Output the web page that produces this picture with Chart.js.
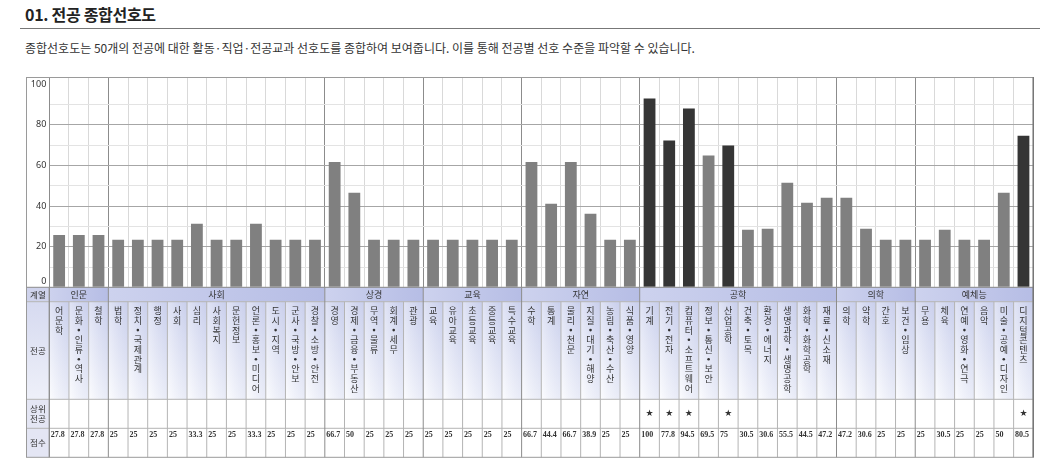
<!DOCTYPE html>
<html>
<head>
<meta charset="utf-8">
<script src="https://cdn.jsdelivr.net/npm/chart.js@4/dist/chart.umd.min.js"></script>
<style>
  body { margin: 0; background: #fff; width: 1040px; height: 465px; position: relative; overflow: hidden;
         font-family: 'Noto Sans CJK KR', 'Noto Sans', sans-serif; color: #222; }
  .title { position: absolute; left: 25px; top: 2px; font-size: 16px; font-weight: bold; letter-spacing: -0.3px; }
  .rule { position: absolute; left: 20px; top: 28px; width: 1020px; height: 1px; background: #777; }
  .sub { position: absolute; left: 25px; top: 39px; font-size: 12px; color: #333; letter-spacing: 0px; }
  #wrap { position: absolute; left: 26px; top: 77px; }
</style>
</head>
<body>
<div class="title">01. 전공 종합선호도</div>
<div class="rule"></div>
<div class="sub">종합선호도는 50개의 전공에 대한 활동·직업·전공교과 선호도를 종합하여 보여줍니다. 이를 통해 전공별 선호 수준을 파악할 수 있습니다.</div>
<div id="wrap"><canvas id="prefChart" width="1008" height="381"></canvas></div>

<script>
// 계열 (그룹 이름, 전공 수)
const groupNames = ['인문', '사회', '상경', '교육', '자연', '공학', '의학', '예체능'];
const groupSizes = [3, 11, 5, 5, 6, 10, 4, 6];

// 전공 이름
const majors = [
    '어문학', '문화·인류·역사', '철학',
    '법학', '정치·국제관계', '행정', '사회', '심리', '사회복지', '문헌정보', '언론·홍보·미디어', '도시·지역', '군사·국방·안보', '경찰·소방·안전',
    '경영', '경제·금융·부동산', '무역·물류', '회계·세무', '관광',
    '교육', '유아교육', '초등교육', '중등교육', '특수교육',
    '수학', '통계', '물리·천문', '지질·대기·해양', '농림·축산·수산', '식품·영양',
    '기계', '전기·전자', '컴퓨터·소프트웨어', '정보·통신·보안', '산업공학', '건축·토목', '환경·에너지', '생명과학·생명공학', '화학·화학공학', '재료·신소재',
    '의학', '약학', '간호', '보건·임상',
    '무용', '체육', '연예·영화·연극', '음악', '미술·공예·디자인', '디지털콘텐츠'
];

// 막대 높이 (그림의 눈금에서 읽은 값)
const barValues = [
    25.8, 25.8, 25.8,
    23.4, 23.4, 23.4, 23.4, 31.3, 23.4, 23.4, 31.3, 23.4, 23.4, 23.4,
    61.7, 46.6, 23.4, 23.4, 23.4,
    23.4, 23.4, 23.4, 23.4, 23.4,
    61.7, 41.2, 61.7, 36.2, 23.4, 23.4,
    93.0, 72.3, 88.1, 64.9, 69.8, 28.3, 28.8, 51.5, 41.6, 44.1,
    44.1, 28.8, 23.4, 23.4,
    23.4, 28.3, 23.4, 23.4, 46.6, 74.7
];

// 점수 (표에 적힌 값)
const scores = [
    '27.8', '27.8', '27.8',
    '25', '25', '25', '25', '33.3', '25', '25', '33.3', '25', '25', '25',
    '66.7', '50', '25', '25', '25',
    '25', '25', '25', '25', '25',
    '66.7', '44.4', '66.7', '38.9', '25', '25',
    '100', '77.8', '94.5', '69.5', '75', '30.5', '30.6', '55.5', '44.5', '47.2',
    '47.2', '30.6', '25', '25',
    '25', '30.5', '25', '25', '50', '80.5'
];

// 상위 전공 (★)
const topMajors = ['기계', '전기·전자', '컴퓨터·소프트웨어', '산업공학', '디지털콘텐츠'];

const yTicks = [0, 20, 40, 60, 80, 100];

// 그룹 경계 인덱스
const boundaries = [0];
groupSizes.forEach(n => boundaries.push(boundaries[boundaries.length - 1] + n));

const barColors = majors.map(m => topMajors.includes(m) ? '#353535' : '#808080');

// 표 그리기
const tablePlugin = {
    id: 'tablePlugin',
    afterDraw(chart) {
        const ctx = chart.ctx;
        const x = chart.scales.x;
        const y = chart.scales.y;
        const area = chart.chartArea;
        const n = majors.length;
        const colW = (x.right - x.left) / n;
        const colLeft = i => x.getPixelForValue(i) - colW / 2;
        const labelL = 0.5, labelR = area.left;
        const rows = [area.bottom, area.bottom + 14.4, area.bottom + 112, area.bottom + 141, area.bottom + 170];

        ctx.save();

        // y 축 숫자
        ctx.fillStyle = '#333';
        ctx.font = '9px "Noto Sans", sans-serif';
        ctx.textAlign = 'right';
        ctx.textBaseline = 'middle';
        yTicks.forEach(v => {
            let py = y.getPixelForValue(v);
            if (v === 0) py -= 6;
            ctx.fillText(String(v), area.left - 3, py);
        });

        // 계열 행 배경
        let start = 0;
        groupSizes.forEach((sz, g) => {
            const l = colLeft(start), r = colLeft(start + sz);
            const grad = ctx.createLinearGradient(l, 0, r, 0);
            grad.addColorStop(0, '#cdd2ee');
            grad.addColorStop(1, '#b6bde5');
            ctx.fillStyle = grad;
            ctx.fillRect(l, rows[0], r - l, rows[1] - rows[0]);
            ctx.fillStyle = '#333';
            ctx.font = '9px "Noto Sans CJK KR", sans-serif';
            ctx.textAlign = 'center';
            ctx.fillText(groupNames[g], (l + r) / 2, (rows[0] + rows[1]) / 2 + 0.5);
            start += sz;
        });

        // 전공 행 배경
        for (let i = 0; i < n; i++) {
            const l = colLeft(i);
            const grad = ctx.createLinearGradient(0, rows[1], 0, rows[2]);
            grad.addColorStop(0, '#d0d5ef');
            grad.addColorStop(1, '#fafbfe');
            ctx.fillStyle = grad;
            ctx.fillRect(l, rows[1], colW, rows[2] - rows[1]);
            const g2 = ctx.createLinearGradient(l, 0, l + colW, 0);
            g2.addColorStop(0, 'rgba(255,255,255,0.35)');
            g2.addColorStop(1, 'rgba(180,188,226,0.25)');
            ctx.fillStyle = g2;
            ctx.fillRect(l, rows[1], colW, rows[2] - rows[1]);
        }

        // 왼쪽 라벨 칸
        const lg = ctx.createLinearGradient(0, rows[1], 0, rows[2]);
        lg.addColorStop(0, '#d6daf0');
        lg.addColorStop(1, '#eef0f9');
        ctx.fillStyle = '#cfd3ec';
        ctx.fillRect(labelL, rows[0], labelR - labelL, rows[1] - rows[0]);
        ctx.fillStyle = lg;
        ctx.fillRect(labelL, rows[1], labelR - labelL, rows[2] - rows[1]);
        ctx.fillStyle = '#e4e6f4';
        ctx.fillRect(labelL, rows[2], labelR - labelL, rows[4] - rows[2]);

        ctx.fillStyle = '#333';
        ctx.font = '8.5px "Noto Sans CJK KR", sans-serif';
        ctx.textAlign = 'center';
        const lc = (labelL + labelR) / 2;
        ctx.fillText('계열', lc, (rows[0] + rows[1]) / 2 + 0.5);
        ctx.fillText('전공', lc, (rows[1] + rows[2]) / 2);
        ctx.fillText('상위', lc, (rows[2] + rows[3]) / 2 - 5);
        ctx.fillText('전공', lc, (rows[2] + rows[3]) / 2 + 5);
        ctx.fillText('점수', lc, (rows[3] + rows[4]) / 2);

        // 전공 이름 (세로쓰기)
        ctx.font = '9px "Noto Sans CJK KR", sans-serif';
        for (let i = 0; i < n; i++) {
            const cx = x.getPixelForValue(i);
            const chars = Array.from(majors[i]);
            chars.forEach((c, k) => {
                const py = rows[1] + 9 + k * 9.7;
                if (c === '·') {
                    ctx.beginPath();
                    ctx.arc(cx, py, 1.3, 0, Math.PI * 2);
                    ctx.fill();
                } else {
                    ctx.fillText(c, cx, py);
                }
            });
        }

        // 상위 전공 별
        ctx.font = '9px "DejaVu Sans", sans-serif';
        majors.forEach((m, i) => {
            if (topMajors.includes(m)) ctx.fillText('★', x.getPixelForValue(i), rows[2] + 14);
        });

        // 점수
        ctx.font = 'bold 8px "Liberation Serif", serif';
        ctx.textAlign = 'left';
        scores.forEach((s, i) => {
            ctx.fillText(s, colLeft(i) + 1.5, rows[3] + 6.5);
        });

        // 표 선
        ctx.lineWidth = 1;
        ctx.strokeStyle = '#b4b4b4';
        ctx.beginPath();
        [rows[1], rows[2], rows[3]].forEach(ry => {
            ctx.moveTo(labelL, ry); ctx.lineTo(x.right, ry);
        });
        for (let i = 1; i < n; i++) {
            if (boundaries.includes(i)) continue;
            const lx = colLeft(i);
            ctx.moveTo(lx, rows[1]); ctx.lineTo(lx, rows[4]);
        }
        ctx.stroke();

        ctx.strokeStyle = '#8c8c8c';
        ctx.beginPath();
        boundaries.forEach(b => {
            const lx = colLeft(b);
            ctx.moveTo(lx, rows[0]); ctx.lineTo(lx, rows[4]);
        });
        ctx.moveTo(labelR, rows[0]); ctx.lineTo(labelR, rows[4]);
        ctx.moveTo(labelL, rows[0]); ctx.lineTo(x.right, rows[0]);
        ctx.stroke();

        // 바깥 테두리
        ctx.strokeStyle = '#9a9a9a';
        ctx.strokeRect(labelL, 0.5, x.right - labelL, rows[4] - 0.5);
        ctx.strokeStyle = '#777';
        ctx.lineWidth = 1.5;
        ctx.beginPath();
        ctx.moveTo(x.right, 0); ctx.lineTo(x.right, rows[4]);
        ctx.stroke();

        ctx.restore();
    }
};

const prefChart = new Chart(document.getElementById('prefChart'), {
    type: 'bar',
    data: {
        labels: majors,
        datasets: [{
            data: barValues,
            backgroundColor: barColors,
            borderWidth: 0,
            barPercentage: 0.6,
            categoryPercentage: 1.0
        }]
    },
    options: {
        responsive: false,
        animation: false,
        layout: { padding: { top: 0, right: 0.7, bottom: 170.7, left: 0 } },
        plugins: {
            legend: { display: false },
            tooltip: { enabled: false }
        },
        scales: {
            x: {
                offset: true,
                ticks: { display: false },
                border: { display: false },
                grid: {
                    offset: true,
                    drawTicks: false,
                    lineWidth: 1,
                    color: function(context) {
                        if (context.index === undefined || boundaries.includes(context.index)) return '#8c8c8c';
                        return '#d9d9d9';
                    }
                }
            },
            y: {
                min: 0,
                max: 103.6,
                ticks: { display: false, stepSize: 10 },
                afterBuildTicks: function(scale) {
                    scale.ticks = scale.ticks.filter(t => Math.abs(t.value % 10) < 0.001);
                },
                afterFit: function(scale) { scale.width = 23.3; },
                border: { display: true, color: '#8c8c8c' },
                grid: {
                    drawTicks: false,
                    lineWidth: 1,
                    color: function(context) {
                        const v = context.tick ? context.tick.value : 0;
                        return (v % 20 === 0) ? '#a6a6a6' : '#e3e3e3';
                    }
                }
            }
        }
    },
    plugins: [tablePlugin]
});
</script>
</body>
</html>
